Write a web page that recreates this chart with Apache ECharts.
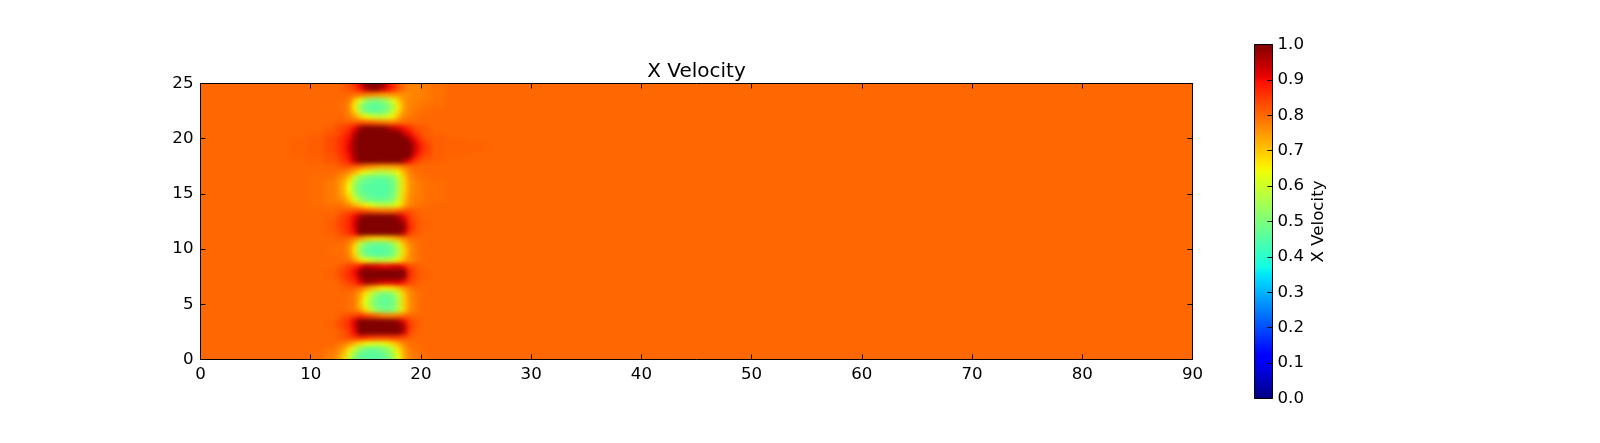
<!DOCTYPE html>
<html><head><meta charset="utf-8">
<style>html,body{margin:0;padding:0;background:#fff}#c{width:1600px;height:443px}</style>
<script src="https://cdn.jsdelivr.net/npm/echarts@6/dist/echarts.min.js"></script>
</head><body><div id="c"></div>
<script>
const chartTitle = 'X Velocity';
const colorbarLabel = 'X Velocity';
const xTicks = [0,10,20,30,40,50,60,70,80,90];
const yTicks = [0,5,10,15,20,25];
const colorbarTicks = [0,0.1,0.2,0.3,0.4,0.5,0.6,0.7,0.8,0.9,1];
const backgroundVelocity = 80;
const xNodes = [9,10.5,12,12.5,13,13.5,14,14.5,15,15.5,16,16.5,17,17.5,18,18.5,19,19.5,20,20.5,21.5,23,25];
// rows run from y = 0 to y = 25 in steps of 0.5; velocities in hundredths
const yStep = 0.5;
const velocityRows = [
[80,79.5,77,74,69,58,50,46,45,45,45,46,48,54,62,72,77,78,79,79.5,80,80,80],
[80,79.5,78,75,71,62,53,48,46,46,46,47,50,56,64,73,77,78,79,79.5,80,80,80],
[80,80,79,77,74,68,60,53,49,48,48,50,53,59,67,74,78,79,79.5,80,80,80,80],
[80,80,80,79,78,76,72,68,65,63,62,63,65,69,73,77,79,79.5,80,80,80,80,80],
[80,80,80,81,82,83,85,87,86,85,84,84,84,85,84,83,81,80,80,80,80,80,80],
[80,80,80,80.5,82,85,90,100,100,100,100,100,100,100,100,93,84,81,80,80,80,80,80],
[80,80,80.5,82,84,86,92,100,100,100,100,100,100,100,100,96,85,82,80.5,80,80,80,80],
[80,80,80.5,82,84,86,92,100,100,100,100,100,100,99,97,90,84,82,80.5,80,80,80,80],
[80,80,80,80.5,82,83,84,86,84,82,80,78,77,77,78,79,80,80,80,80,80,80,80],
[80,80,80,80,80,79,78,74,68,59,53,50,49,51,58,69,76,78,79.5,80,80,80,80],
[80,80,80,80,80,79,78,71,62,54,49,47,47,49,57,69,75,78,79.5,80,80,80,80],
[80,80,80,80,80,79,78,72,63,55,49,47,47,49,57,69,76,78,79.5,80,80,80,80],
[80,80,80,80,80,80,78,74,67,59,53,50,49,52,60,70,76,78,79.5,80,80,80,80],
[80,80,80,80,81,81,81,79,76,72,69,66,66,67,71,75,78,80,80,80,80,80,80],
[80,80,80,80.5,82,84,86,91,97,97,95,93,92,92,92,89,84,82,80.5,80,80,80,80],
[80,80,80.5,82,84,86,89,96,100,100,100,100,100,100,100,98,86,83,81,80.5,80,80,80],
[80,80,80.5,82,84,86,90,98,100,100,100,100,100,100,100,99,87,83,81,80.5,80,80,80],
[80,80,80,80.5,82,84,86,89,94,93,92,90,90,91,92,88,83,82,80.5,80,80,80,80],
[80,80,80,80,79.5,79,74,68,64,61,59,58,59,61,66,72,76,78,79.5,80,80,80,80],
[80,80,80,79.5,79,77,69,56,49,47,46,46,47,50,58,69,76,78,79.5,80,80,80,80],
[80,80,79.5,79,79,76,67,53,47,45,45,45,46,49,57,68,75,78,79.5,80,80,80,80],
[80,80,80,79.5,79,77,70,58,51,48,47,47,49,53,61,71,77,78,79.5,80,80,80,80],
[80,80,80,81,81,80,78,75,71,69,68,68,69,71,74,77,79,80,80,80,80,80,80],
[80,80,80.5,82,84,86,90,100,100,100,100,100,100,100,100,94,85,82,80.5,80,80,80,80],
[80,80,81,83,85,87,92,100,100,100,100,100,100,100,100,98,88,83,81,80.5,80,80,80],
[80,80,81,83,85,87,92,100,100,100,100,100,100,100,99,95,86,83,81,80.5,80,80,80],
[80,80,80.5,82,84,86,90,96,100,100,100,100,100,99,96,90,85,82,80.5,80,80,80,80],
[80,80,80,80.5,81,82,83,83,82,81,80,79,79,79,81,82,82,81,80,80,80,80,80],
[80,79.5,79,79,78,76,72,69,66,63,60,59,59,60,65,72,77,78,79,79.5,80,80,80],
[80,79.5,78,77,75,70,62,55,50,48,47,47,48,51,60,70,76,78,78,79,79.5,80,80],
[80,79.5,78,76,73,66,55,49,47,46,45,45,46,49,58,69,76,77,78,79,79.5,80,80],
[80,79.5,78,76,72,64,53,48,45,45,45,45,45,48,57,68,75,77,78,79,79.5,80,80],
[80,79.5,78,76,73,65,54,49,46,46,45,45,46,48,57,68,75,77,78,79,79.5,80,80],
[80,79.5,79,77,75,70,60,53,49,48,47,47,48,51,59,69,76,78,79,79.5,80,80,80],
[80,80,80,79,78,76,72,67,63,60,58,58,58,60,65,72,77,79,79.5,80,80,80,80],
[80,80,80,81,82,82,81,80,78,76,75,74,74,74,75,78,79,80,80,80,80,80,80],
[80,80.5,82,83,85,88,95,100,100,100,100,100,100,100,100,96,90,85,82,81,80.5,80,80],
[80.5,81,82,84,86,90,97,100,100,100,100,100,100,100,100,100,100,90,86,83,81,80.5,80],
[80.5,81,83,85,87,91,98,100,100,100,100,100,100,100,100,100,100,93,88,84,81,80.5,80.5],
[80.5,81,83,85,87,91,98,100,100,100,100,100,100,100,100,100,100,93,88,84,81,80.5,80.5],
[80.5,81,83,85,87,90,97,100,100,100,100,100,100,100,100,100,96,90,85,82,81,80.5,80],
[80,80.5,82,83,85,88,95,100,100,100,100,100,100,100,100,94,90,85,83,81,80.5,80,80],
[80,80,81,83,84,86,90,97,100,100,100,100,97,94,92,89,86,83,82,81,80,80,80],
[80,80,80,81,81,81,81,82,82,81,80,79,78,78,79,80,80,80,80,80,80,80,80],
[80,80,80,80,79.5,78,75,69,65,62,60,60,62,66,72,77,78,79,79.5,80,80,80,80],
[80,80,80,80,79.5,77,68,57,50,47,47,48,52,59,68,75,77,78,79,79.5,80,80,80],
[80,80,80,79.5,79,76,66,54,47,46,46,47,50,56,66,74,77,78,78,79,79.5,80,80],
[80,80,80,80,79.5,78,70,62,55,51,50,52,56,62,69,75,77,77,78,78,79,80,80],
[80,80,80,80,80,80,79,78,77,76,75,74,74,75,75,76,76,77,77,78,79,80,80],
[80,80,80,80,81,82,84,88,94,98,98,94,90,86,82,79,77,77,77,78,79,80,80],
[80,80,80,80,81,83,86,91,100,100,100,100,92,87,82,79,77,77,77,78,79,80,80]
];
const jetPoints = {
  r:[[0,0],[0.35,0],[0.66,1],[0.89,1],[1,0.5]],
  g:[[0,0],[0.125,0],[0.375,1],[0.64,1],[0.91,0],[1,0]],
  b:[[0,0.5],[0.11,1],[0.34,1],[0.65,0],[1,0]]
};
function channel(pts,v){
  for(let i=1;i<pts.length;i++){ if(v<=pts[i][0]){
    const a=pts[i-1],b=pts[i]; return a[1]+(b[1]-a[1])*(v-a[0])/(b[0]-a[0]); } }
  return pts[pts.length-1][1];
}
function jet(v){
  v=Math.max(0,Math.min(1,v));
  const c=k=>Math.round(255*channel(jetPoints[k],v));
  return `rgb(${c('r')},${c('g')},${c('b')})`;
}
const cells=[];
velocityRows.forEach((row,j)=>{
  const y=j*yStep;
  row.forEach((val,i)=>{
    const x0=i?(xNodes[i-1]+xNodes[i])/2:xNodes[0]-1;
    const x1=i<xNodes.length-1?(xNodes[i]+xNodes[i+1])/2:xNodes[i]+1;
    cells.push([x0,x1,y-yStep/2,y+yStep/2,val]);
  });
});
const font='"DejaVu Sans"';
const GRID={left:200.5,top:83.5,width:992,height:276};
const CB={left:1254.5,top:44.5,width:18,height:354};
const chart=echarts.init(document.getElementById('c'),null,{renderer:'canvas'});
const tickStyle={show:true,inside:true,length:5,lineStyle:{color:'#000',width:1}};
const frame={show:true,onZero:false,lineStyle:{color:'#000',width:1}};
function plotAxis(pos,max,interval,labels){
  return {type:'value',gridIndex:0,position:pos,min:0,max:max,interval:interval,zlevel:2,z:5,
    axisLine:frame,axisTick:tickStyle,splitLine:{show:false},
    axisLabel:{show:labels,color:'#000',fontFamily:font,fontSize:16.67,margin:7}};
}
chart.setOption({
  animation:false,
  backgroundColor:'#fff',
  title:{text:chartTitle,left:GRID.left+GRID.width/2,top:62,textAlign:'center',padding:0,
    textStyle:{color:'#000',fontFamily:font,fontSize:20,fontWeight:'normal'}},
  grid:[Object.assign({},GRID),Object.assign({},CB)],
  xAxis:[plotAxis('bottom',xTicks[xTicks.length-1],xTicks[1]-xTicks[0],true),
         plotAxis('top',xTicks[xTicks.length-1],xTicks[1]-xTicks[0],false),
         {type:'value',gridIndex:1,min:0,max:1,show:false}],
  yAxis:[plotAxis('left',yTicks[yTicks.length-1],yTicks[1]-yTicks[0],true),
         plotAxis('right',yTicks[yTicks.length-1],yTicks[1]-yTicks[0],false),
         {type:'value',gridIndex:1,position:'right',min:0,max:1,interval:colorbarTicks[1],zlevel:2,z:10,
          axisLine:{show:false,onZero:false},axisTick:{show:true,inside:true,length:5,lineStyle:{color:'#000',width:1}},
          splitLine:{show:false},
          axisLabel:{color:'#000',fontFamily:font,fontSize:16.67,margin:5,formatter:v=>v.toFixed(1)},
          name:colorbarLabel,nameLocation:'middle',nameRotate:90,nameGap:38,
          nameTextStyle:{color:'#000',fontFamily:font,fontSize:16.67}}],
  series:[
    {type:'custom',name:'background',xAxisIndex:0,yAxisIndex:0,zlevel:1,z:1,silent:true,clip:false,
     data:[[0,xTicks[xTicks.length-1],0,yTicks[yTicks.length-1],backgroundVelocity]],
     renderItem:(p,api)=>{
       const a=api.coord([api.value(0),api.value(2)]),b=api.coord([api.value(1),api.value(3)]);
       const m=8;
       return {type:'rect',shape:{x:a[0]-m,y:b[1]-m,width:b[0]-a[0]+2*m,height:a[1]-b[1]+2*m},
               style:{fill:jet(api.value(4)/100)}};
     }},
    {type:'custom',name:'X Velocity',xAxisIndex:0,yAxisIndex:0,zlevel:1,z:2,silent:true,clip:false,
     encode:{x:[0,1],y:[2,3]},data:cells,progressive:0,
     renderItem:(p,api)=>{
       const a=api.coord([api.value(0),api.value(2)]),b=api.coord([api.value(1),api.value(3)]);
       const col=jet(api.value(4)/100);
       return {type:'rect',shape:{x:a[0],y:b[1],width:b[0]-a[0],height:a[1]-b[1]},
               style:{fill:col,stroke:col,lineWidth:0.6}};
     }},
    {type:'custom',name:'colorbar',xAxisIndex:2,yAxisIndex:2,silent:true,clip:false,z:1,
     data:[[0,1,0,1]],
     renderItem:(p,api)=>{
       const a=api.coord([api.value(0),api.value(2)]),b=api.coord([api.value(1),api.value(3)]);
       const stops=[];
       for(let i=0;i<=100;i++) stops.push({offset:i/100,color:jet(1-i/100)});
       return {type:'rect',shape:{x:a[0],y:b[1],width:b[0]-a[0],height:a[1]-b[1]},
               style:{fill:new echarts.graphic.LinearGradient(0,0,0,1,stops),stroke:'#000',lineWidth:1}};
     }}
  ]
});
function soften(){
  const cv=document.querySelector('canvas[data-zr-dom-id="zr_1"]');
  if(!cv) return;
  const W=1600,H=443;
  cv.style.filter='blur(2.2px)';
  cv.style.clipPath=`inset(${GRID.top}px ${W-GRID.left-GRID.width}px ${H-GRID.top-GRID.height}px ${GRID.left}px)`;
}
soften();
chart.on('finished',soften);
</script></body></html>
